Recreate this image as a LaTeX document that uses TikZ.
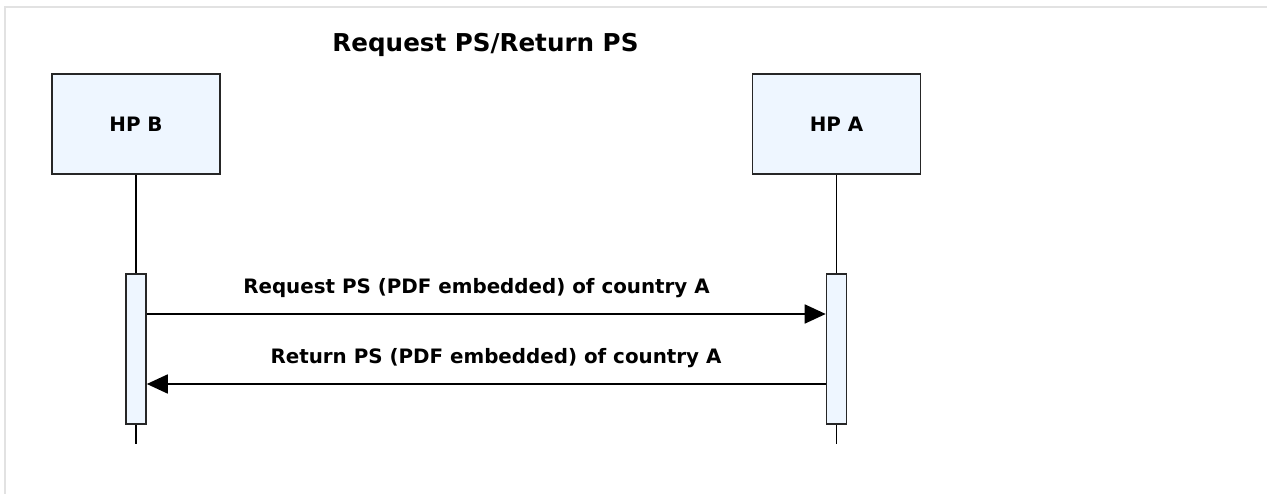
\documentclass[tikz,border=0pt]{standalone}
\usepackage{fontspec}
\setmainfont{DejaVu Sans}
\usepackage{xcolor}
\usepackage{tikz}
\usetikzlibrary{arrows.meta, positioning, calc}

\definecolor{boxfill}{HTML}{EEF6FF}
\definecolor{framegray}{HTML}{E2E2E2}

\begin{document}
\begin{tikzpicture}[
        font=\fontsize{11.3pt}{13pt}\selectfont\bfseries,
        hpbox/.style={rectangle, draw=black!85, line width=0.9pt, fill=boxfill, minimum width=3.36cm, minimum height=2.0cm, align=center},
        actbox/.style={rectangle, draw=black!85, line width=0.9pt, fill=boxfill, minimum width=0.4cm, minimum height=3.0cm, inner sep=0pt},
        lifeline/.style={line width=1pt, black},
        msg/.style={-{Triangle[length=0.42cm, width=0.38cm]}, line width=1pt, black}
    ]
        \useasboundingbox (0,0) rectangle (25.34,-9.88);
        \draw[framegray, line width=1.2pt] (0.10,-9.88) -- (0.10,-0.14) -- (25.34,-0.14);
        \node[anchor=base, font=\fontsize{14pt}{16pt}\selectfont\bfseries] (title) at (9.71,-1.04) {Request PS/Return PS};
        \node[hpbox] (hpb) at (2.72,-2.48) {HP B};
        \node[hpbox] (hpa) at (16.73,-2.48) {HP A};
        \coordinate (lifeend) at (0,-8.88);
        \draw[lifeline] (hpb.south) -- (hpb.south |- lifeend);
        \draw[lifeline] (hpa.south) -- (hpa.south |- lifeend);
        \node[actbox] (actb) at (2.72,-6.98) {};
        \node[actbox] (acta) at (16.73,-6.98) {};
        \coordinate (req) at (0,-6.28);
        \coordinate (ret) at (0,-7.68);
        \draw[msg] (actb.east |- req) -- (acta.west |- req);
        \draw[msg] (acta.west |- ret) -- (actb.east |- ret);
        \node[anchor=base] (reqlabel) at (9.53,-5.88) {Request PS (PDF embedded) of country A};
        \node[anchor=base] (retlabel) at (9.92,-7.28) {Return PS (PDF embedded) of country A};
    \end{tikzpicture}
\end{document}
